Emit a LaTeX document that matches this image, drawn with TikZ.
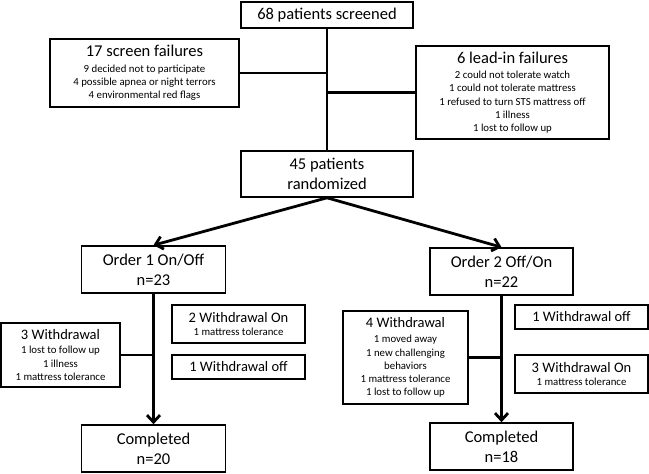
\documentclass[tikz,border=0pt]{standalone}
\usepackage{fontspec}
\setmainfont{Carlito}
\usetikzlibrary{arrows.meta}
\newcommand{\hdA}{\fontsize{16.5}{20}\selectfont}
\newcommand{\hdB}{\fontsize{14.5}{17}\selectfont}
\newcommand{\smf}{\fontsize{10.8}{13.3}\selectfont}
\tikzset{
  box/.style={draw, line width=1.6pt, align=center, inner sep=0pt, font=\hdA},
  sbox/.style={draw, line width=1.6pt, align=center, inner sep=0pt, font=\smf},
  conn/.style={line width=2.8pt},
  arr/.style={line width=2.8pt, -{Straight Barb[length=7pt,width=13pt]}},
}
\begin{document}
\begin{tikzpicture}[x=1pt,y=-1pt]
\useasboundingbox (0,0) rectangle (649,474);
\node[box, minimum width=172, minimum height=26] (scr) at (327,15) {68 patients screened};
\node[sbox, minimum width=189, minimum height=68] (sf) at (144.5,73)
  {{\hdA 17 screen failures}\\[2pt]9 decided not to participate\\4 possible apnea or night terrors\\4 environmental red flags};
\node[sbox, minimum width=193, minimum height=93] (li) at (512.5,92.5)
  {{\hdA 6 lead-in failures}\\[2pt]2 could not tolerate watch\\1 could not tolerate mattress\\1 refused to turn STS mattress off\\1 illness\\1 lost to follow up};
\node[box, minimum width=172, minimum height=46] (rnd) at (327,174) {45 patients\\randomized};
\node[box, minimum width=144, minimum height=47] (o1) at (153.5,269.5) {Order 1 On/Off\\n=23};
\node[box, minimum width=143, minimum height=47] (o2) at (501.5,271.5) {Order 2 Off/On\\n=22};
\node[box, minimum width=144, minimum height=47] (c1) at (153.5,448.5) {Completed\\n=20};
\node[box, minimum width=143, minimum height=47] (c2) at (501.5,446.5) {Completed\\n=18};
\node[sbox, minimum width=119, minimum height=64] (w3) at (60.5,355)
  {{\hdB 3 Withdrawal}\\[1pt]1 lost to follow up\\1 illness\\1 mattress tolerance};
\node[sbox, minimum width=133, minimum height=38] (w2on) at (238.5,324)
  {{\hdB 2 Withdrawal On}\\1 mattress tolerance};
\node[sbox, minimum width=133, minimum height=24] (w1off) at (238.5,367)
  {{\hdB 1 Withdrawal off}};
\node[sbox, minimum width=125, minimum height=93] (w4) at (405.5,357.5)
  {{\hdB 4 Withdrawal}\\[2pt]1 moved away\\1 new challenging\\behaviors\\1 mattress tolerance\\1 lost to follow up};
\node[sbox, minimum width=133, minimum height=24] (w1offR) at (581.5,317)
  {{\hdB 1 Withdrawal off}};
\node[sbox, minimum width=133, minimum height=38] (w3on) at (581.5,374)
  {{\hdB 3 Withdrawal On}\\1 mattress tolerance};
\draw[conn] (scr.south) -- (rnd.north);
\draw[conn] (sf.east) -- (sf.east -| scr.south);
\draw[conn] (li.west) -- (li.west -| scr.south);
\draw[arr] (rnd.south) -- (o1.north);
\draw[arr] (rnd.south) -- (o2.north);
\draw[arr] (o1.south) -- (c1.north);
\draw[arr] (o2.south) -- (c2.north);
\draw[conn] (w3.east) -- (w3.east -| o1.south);
\draw[conn] (w4.east) -- (w4.east -| o2.south);
\end{tikzpicture}
\end{document}
